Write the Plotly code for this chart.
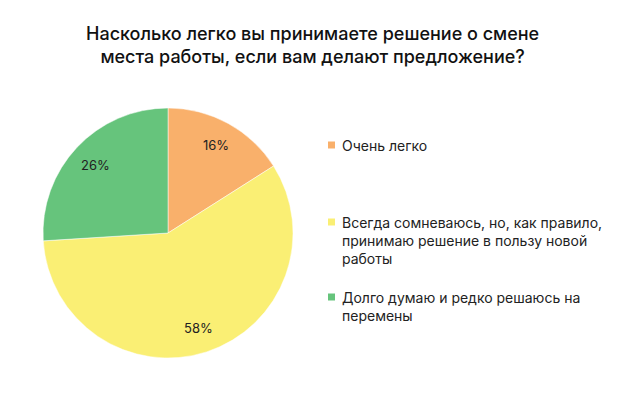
import math
import plotly.graph_objects as go

categories = ["Очень легко",
              "Всегда сомневаюсь, но, как правило,<br>принимаю решение в пользу новой<br>работы",
              "Долго думаю и редко решаюсь на<br>перемены"]
values = [16, 58, 26]
colors = ["#F9B06B", "#FAEF74", "#66C47C"]
title = "Насколько легко вы принимаете решение о смене<br>места работы, если вам делают предложение?"

W, H = 624, 393
cx, cy, r = 168, 233, 125
FONT = "Inter, Roboto, sans-serif"

fig = go.Figure(go.Pie(
    labels=categories, values=values, sort=False, direction="clockwise", rotation=0,
    marker=dict(colors=colors, line=dict(color="white", width=0.5)),
    textinfo="none",
    domain=dict(x=[(cx - r) / W, (cx + r) / W], y=[(H - cy - r) / H, (H - cy + r) / H]),
    showlegend=False, hoverinfo="label+percent",
))

# percentage labels placed along each slice's mid-angle
total = sum(values)
cum = 0
for v in values:
    mid = (cum + v / 2) / total * 2 * math.pi
    cum += v
    px = cx + 0.8 * r * math.sin(mid)
    py = cy - 0.8 * r * math.cos(mid)
    fig.add_annotation(text=f"{v}%", xref="paper", yref="paper", x=px / W, y=(H - py) / H,
                       xanchor="center", yanchor="middle", showarrow=False,
                       font=dict(family=FONT, size=13, color="#222222"))

# custom legend
leg_y = [145, 222, 297]
for lab, col, y in zip(categories, colors, leg_y):
    fig.add_shape(type="rect", xref="paper", yref="paper",
                  x0=328 / W, x1=335 / W, y0=(H - y - 3.5) / H, y1=(H - y + 3.5) / H,
                  fillcolor=col, line=dict(width=0))
    fig.add_annotation(text=lab, xref="paper", yref="paper", x=340 / W, y=(H - y + 10) / H,
                       xanchor="left", yanchor="top", showarrow=False, align="left",
                       font=dict(family=FONT, size=14, color="#222222"))

fig.add_annotation(text=title, xref="paper", yref="paper", x=0.5, y=(H - 21) / H,
                   xanchor="center", yanchor="top", showarrow=False, align="center",
                   font=dict(family=FONT, size=18, color="#111111", weight=500))

fig.update_layout(width=W, height=H, margin=dict(l=0, r=0, t=0, b=0),
                  paper_bgcolor="white", plot_bgcolor="white")
fig.write_html("out.html", config={"displayModeBar": False},
               post_script="document.body.style.margin='0';")
